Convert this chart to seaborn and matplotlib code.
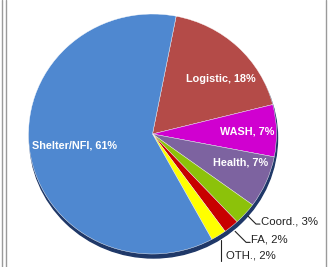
import numpy as np
import matplotlib
matplotlib.use("Agg")
import matplotlib.pyplot as plt
import seaborn as sns
from matplotlib.patches import Ellipse
from matplotlib.lines import Line2D

categories = ["Logistic", "WASH", "Health", "Coord.", "FA", "OTH.", "Shelter/NFI"]
values = [18, 7, 7, 3, 2, 2, 61]
colors = ["#B44B48", "#D000D0", "#7D63A0", "#8CC20A", "#C80000", "#FFFF00", "#4F88D0"]

sns.set_theme(style="white")
plt.rcParams['font.family'] = ['Liberation Sans', 'DejaVu Sans']

W, H = 328, 267
fig = plt.figure(figsize=(W / 100, H / 100), dpi=100)
ax = fig.add_axes([0, 0, 1, 1])

# pie centre (pixels from top-left) and horizontal/vertical radii in pixels
cxp, cyp, rx, ry = 152.5, 134, 124, 120

# 3D depth shadow (offset a few pixels down)
ax.add_patch(Ellipse((1 / rx, -4 / ry), 2, 2, color="#1F3868", zorder=0))

wedges, _ = ax.pie(values, colors=colors, startangle=79, counterclock=False,
                   center=(0, 0), radius=1,
                   wedgeprops=dict(edgecolor="white", linewidth=0.3))
for w in wedges:
    w.set_zorder(1)

ax.set_aspect("auto")
ax.set_xlim(-cxp / rx, (W - cxp) / rx)
ax.set_ylim(-(H - cyp) / ry, cyp / ry)
ax.axis("off")

def mid(w):
    return np.deg2rad((w.theta1 + w.theta2) / 2)

# inside labels: (index, radial fraction, angle offset deg)
inside = {0: (0.72, -7), 1: (0.76, 0), 2: (0.75, 5), 6: (0.64, 0)}
for i, (f, off) in inside.items():
    a = mid(wedges[i]) + np.deg2rad(off)
    ax.text(f * np.cos(a), f * np.sin(a), f"{categories[i]}, {values[i]}%",
            color="white", fontsize=7.8, fontweight="bold",
            ha="center", va="center", zorder=3)

# outside labels: leader start fraction, text offset (dx, dy) in pixels
outside = {3: (1.03, 13, -5), 4: (1.05, 16, -8), 5: (1.04, 5, -16)}
for i, (f0, dx, dy) in outside.items():
    a = mid(wedges[i])
    x0, y0 = f0 * np.cos(a), f0 * np.sin(a)
    tx, ty = x0 + dx / rx, y0 + dy / ry
    if i == 5:
        ax.plot([x0, x0], [y0, ty - 5 / ry], color="#222222", lw=0.8, zorder=3)
    else:
        ax.plot([x0, tx - 5 / rx, tx - 1 / rx], [y0, ty - 3 / ry, ty - 3 / ry],
                color="#222222", lw=0.8, zorder=3)
    ax.text(tx, ty, f"{categories[i]}, {values[i]}%", color="#222222",
            fontsize=8.2, ha="left", va="center", zorder=3)

# frame lines
for xf in (1.5 / W, 6 / W, 325.5 / W):
    fig.add_artist(Line2D([xf, xf], [0, 1], color="#9A9A9A", lw=1.0))

fig.savefig("out.png", dpi=100)
